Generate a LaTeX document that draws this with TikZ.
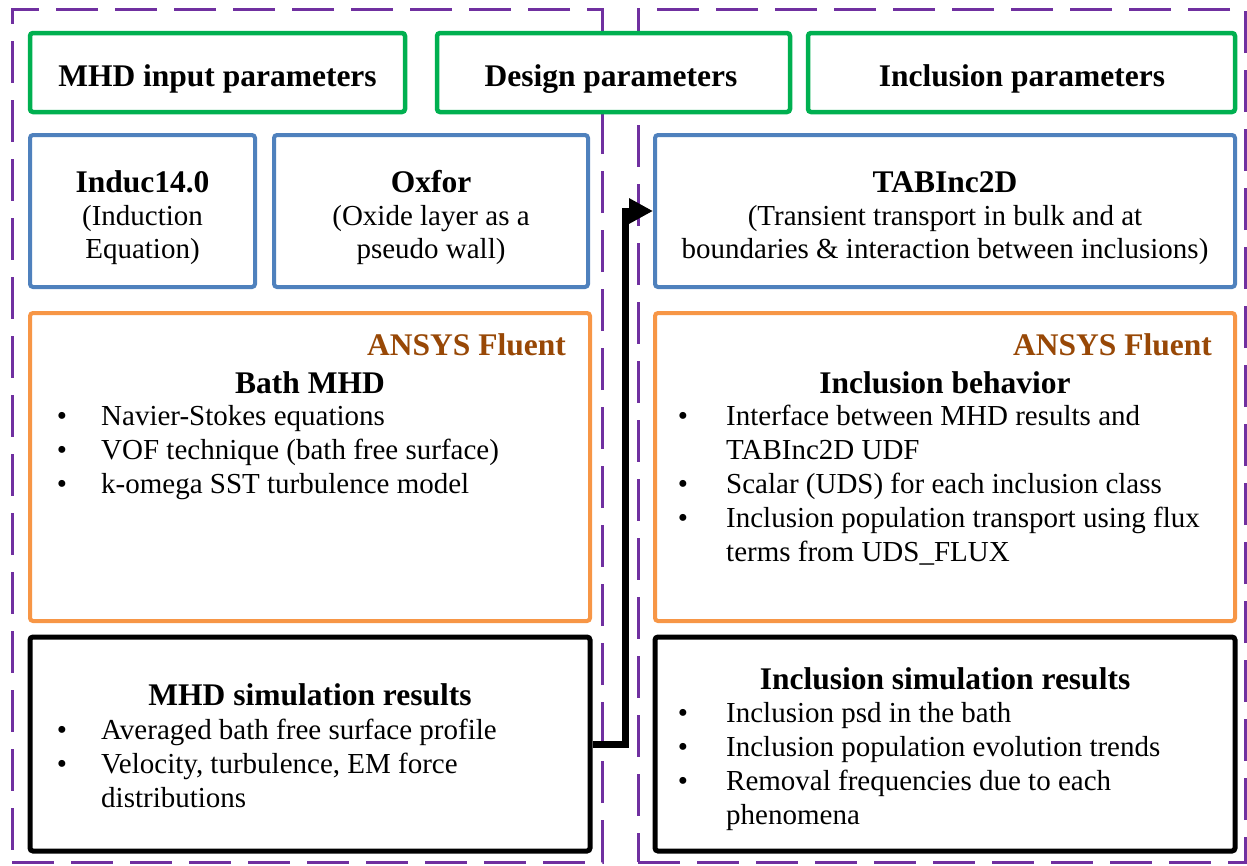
\documentclass[tikz,border=0pt]{standalone}
\usepackage{fontspec}
\setmainfont{Liberation Serif}
\usetikzlibrary{arrows.meta}
\definecolor{pur}{RGB}{112,48,160}
\definecolor{grn}{RGB}{0,176,80}
\definecolor{blu}{RGB}{79,129,189}
\definecolor{org}{RGB}{247,150,70}
\definecolor{brn}{RGB}{152,72,6}
\tikzset{
  frame/.style={draw=pur, line width=3pt, dash pattern=on 42pt off 17pt, inner sep=0, minimum height=853pt},
  boxbase/.style={fill=white, inner sep=0, rounded corners=3pt},
  gbox/.style={boxbase, draw=grn, line width=4.5pt, minimum height=79pt},
  bbox/.style={boxbase, draw=blu, line width=4pt, minimum height=152pt},
  obox/.style={boxbase, draw=org, line width=4pt, minimum height=308pt},
  kbox/.style={boxbase, draw=black, line width=5pt, minimum height=214pt},
  txt/.style={font=\fontsize{29}{34}\selectfont, inner sep=0, anchor=base},
  txl/.style={txt, anchor=base west},
  ttl/.style={font=\fontsize{31.5}{36}\selectfont\bfseries, inner sep=0, anchor=base},
  fl/.style={ttl, text=brn, anchor=base east},
  bul/.style={txt},
  conn/.style={line width=7pt, line join=miter, -{Triangle[length=24pt,width=24pt]}}
}
\begin{document}
\begin{tikzpicture}[x=1pt,y=-1pt]
\useasboundingbox (0,0) rectangle (1247,865);
% frames
\node[frame, minimum width=590pt] (f1) at (307,435.5) {};
\node[frame, minimum width=607pt] (f2) at (941.5,435.5) {};
% green
\node[gbox, minimum width=375pt] (g1) at (217.5,72.5) {};
\node[gbox, minimum width=353pt] (g2) at (613.5,72.5) {};
\node[gbox, minimum width=427pt] (g3) at (1021.5,72.5) {};
\node[ttl] (g1t) at (217.5,86) {MHD input parameters};
\node[ttl] (g2t) at (611,86) {Design parameters};
\node[ttl] (g3t) at (1022,86) {Inclusion parameters};
% blue
\node[bbox, minimum width=225pt] (b1) at (142.5,211) {};
\node[bbox, minimum width=314pt] (b2) at (431,211) {};
\node[bbox, minimum width=580pt] (b3) at (945,211) {};
\node[ttl] (b1a) at (142.5,192.5) {Induc14.0};
\node[txt] (b1b) at (142.5,225) {(Induction};
\node[txt] (b1c) at (142.5,258) {Equation)};
\node[ttl] (b2a) at (431,192.5) {Oxfor};
\node[txt] (b2b) at (431,225) {(Oxide layer as a};
\node[txt] (b2c) at (431,258) {pseudo wall)};
\node[ttl] (b3a) at (945,192.5) {TABInc2D};
\node[txt] (b3b) at (945,225) {(Transient transport in bulk and at};
\node[txt] (b3c) at (945,258) {boundaries \& interaction between inclusions)};
% orange
\node[obox, minimum width=560pt] (o1) at (310,467) {};
\node[obox, minimum width=580pt] (o2) at (945,467) {};
\node[fl] (o1f) at (566,355) {ANSYS Fluent};
\node[fl] (o2f) at (1212,355) {ANSYS Fluent};
\node[ttl] (o1t) at (310,393) {Bath MHD};
\node[ttl] (o2t) at (945,393) {Inclusion behavior};
\node[bul] (o1b1) at (62,425) {\textbullet};
\node[bul] (o1b2) at (62,459) {\textbullet};
\node[bul] (o1b3) at (62,493) {\textbullet};
\node[txl] (o1l1) at (101,425) {Navier-Stokes equations};
\node[txl] (o1l2) at (101,459) {VOF technique (bath free surface)};
\node[txl] (o1l3) at (101,493) {k-omega SST turbulence model};
\node[bul] (o2b1) at (683,425) {\textbullet};
\node[bul] (o2b2) at (683,493) {\textbullet};
\node[bul] (o2b3) at (683,527) {\textbullet};
\node[txl] (o2l1) at (726,425) {Interface between MHD results and};
\node[txl] (o2l2) at (726,459) {TABInc2D UDF};
\node[txl] (o2l3) at (726,493) {Scalar (UDS) for each inclusion class};
\node[txl] (o2l4) at (726,527) {Inclusion population transport using flux};
\node[txl] (o2l5) at (726,561) {terms from UDS\_FLUX};
% black
\node[kbox, minimum width=560pt] (k1) at (310,744) {};
\node[kbox, minimum width=580pt] (k2) at (945,744) {};
\node[ttl] (k1t) at (310,705) {MHD simulation results};
\node[bul] (k1b1) at (62,739) {\textbullet};
\node[bul] (k1b2) at (62,773) {\textbullet};
\node[txl] (k1l1) at (101,739) {Averaged bath free surface profile};
\node[txl] (k1l2) at (101,773) {Velocity, turbulence, EM force};
\node[txl] (k1l3) at (101,807) {distributions};
\node[ttl] (k2t) at (945,689) {Inclusion simulation results};
\node[bul] (k2b1) at (683,722) {\textbullet};
\node[bul] (k2b2) at (683,756) {\textbullet};
\node[bul] (k2b3) at (683,790) {\textbullet};
\node[txl] (k2l1) at (726,722) {Inclusion psd in the bath};
\node[txl] (k2l2) at (726,756) {Inclusion population evolution trends};
\node[txl] (k2l3) at (726,790) {Removal frequencies due to each};
\node[txl] (k2l4) at (726,824) {phenomena};
% connector
\draw[conn] (k1.east) -- ++(33,0) |- (b3.west);
\end{tikzpicture}
\end{document}
